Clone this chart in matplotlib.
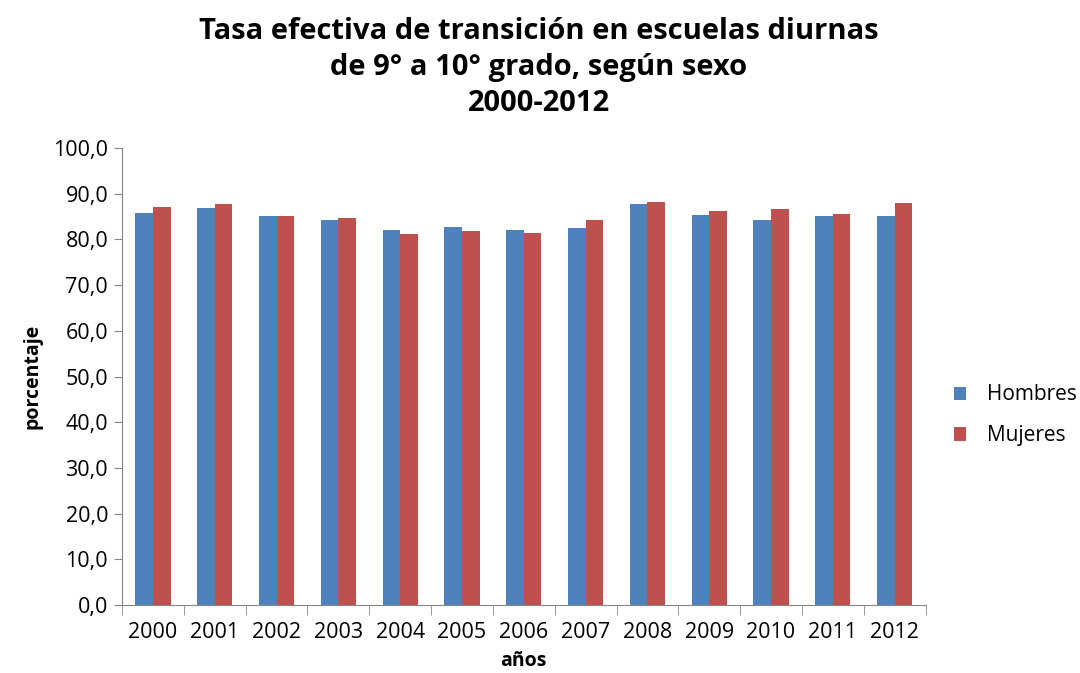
import numpy as np
import matplotlib
matplotlib.use("Agg")
import matplotlib.pyplot as plt
from matplotlib.ticker import FixedLocator, FuncFormatter

plt.rcParams['font.family'] = ['Open Sans', 'DejaVu Sans']

years = ['2000', '2001', '2002', '2003', '2004', '2005', '2006',
         '2007', '2008', '2009', '2010', '2011', '2012']
hombres = [85.8, 86.8, 85.1, 84.3, 82.0, 82.7, 82.0,
           82.5, 87.8, 85.3, 84.3, 85.1, 85.1]
mujeres = [87.2, 87.8, 85.1, 84.8, 81.2, 81.8, 81.5,
           84.3, 88.2, 86.3, 86.6, 85.6, 88.0]

fig = plt.figure(figsize=(10.8, 6.73), dpi=100)
ax = fig.add_axes([0.113, 0.101, 0.744, 0.679])

x = np.arange(len(years))
w = 0.285
ax.bar(x - w / 2, hombres, w, color='#4F81BD', label='Hombres')
ax.bar(x + w / 2, mujeres, w, color='#C0504D', label='Mujeres')

ax.set_xlim(-0.5, len(years) - 0.5)
ax.set_ylim(0, 100)
ax.set_yticks(np.arange(0, 101, 10))
ax.yaxis.set_major_formatter(FuncFormatter(lambda v, p: f"{v:.1f}".replace('.', ',')))
ax.set_xticks(x)
ax.set_xticklabels(years)
ax.xaxis.set_minor_locator(FixedLocator(np.arange(-0.5, len(years), 1)))

for s in ['top', 'right']:
    ax.spines[s].set_visible(False)
for s in ['left', 'bottom']:
    ax.spines[s].set_color('#868686')
ax.tick_params(axis='x', which='major', length=0, labelsize=15.5, pad=12, colors='#000000')
ax.tick_params(axis='x', which='minor', length=7, color='#868686')
ax.tick_params(axis='y', length=6, color='#868686', labelsize=15.5, pad=4)

ax.set_xlabel('años', fontsize=14, fontweight='bold', labelpad=6)
ax.set_ylabel('porcentaje', fontsize=14, fontweight='bold', labelpad=8)

fig.suptitle('Tasa efectiva de transición en escuelas diurnas\nde 9° a 10° grado, según sexo\n2000-2012',
             fontsize=21, fontweight='bold', y=0.975, x=0.499, linespacing=1.33)

ax.legend(loc='center left', bbox_to_anchor=(1.012, 0.415), frameon=False,
          fontsize=15, handlelength=0.6, handleheight=0.6, labelspacing=0.95,
          handletextpad=1.0)

plt.savefig('out.png', dpi=100)
